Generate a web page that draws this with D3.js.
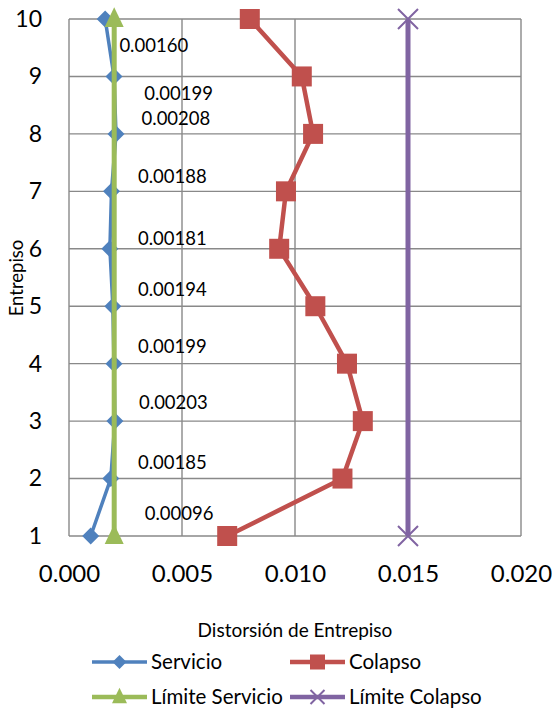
<!DOCTYPE html>
<html><head><meta charset="utf-8">
<script src="https://cdn.jsdelivr.net/npm/d3@7"></script>
<style>body{margin:0;background:#fff;} svg{display:block;font-family:Lato,"Open Sans",sans-serif;}</style>
</head><body>
<script>
const stories = [1,2,3,4,5,6,7,8,9,10];
const servicio = [0.00096,0.00185,0.00203,0.00199,0.00194,0.00181,0.00188,0.00208,0.00199,0.00160];
const colapso = [0.0070,0.0121,0.0130,0.0123,0.0109,0.0093,0.0096,0.0108,0.0103,0.0080];
const limiteServicio = [0.002,0.002];
const limiteColapso = [0.015,0.015];
const limitStories = [1,10];
const xTicks = [0,0.005,0.010,0.015,0.020];
const yTicks = [1,2,3,4,5,6,7,8,9,10];
const labelTexts = ["0.00096","0.00185","0.00203","0.00199","0.00194","0.00181","0.00188","0.00208","0.00199","0.00160"];
// label anchor (left edge, baseline) in data units
const labelX = [0.00335,0.00305,0.00310,0.00305,0.00305,0.00305,0.00305,0.00321,0.00333,0.00223];
const labelY = [1.28,2.16,3.21,4.18,5.17,6.07,7.14,8.155,8.59,9.43];

const W=552,H=711;
const svg=d3.select("body").append("svg").attr("width",W).attr("height",H);
const x=d3.scaleLinear().domain([0,0.02]).range([69,521]);
const y=d3.scaleLinear().domain([1,10]).range([536,19]);
const grid="#898989";

// gridlines
svg.append("g").selectAll("line").data(xTicks).join("line")
  .attr("x1",d=>x(d)).attr("x2",d=>x(d)).attr("y1",y(1)).attr("y2",y(10))
  .attr("stroke",grid).attr("stroke-width",1.4);
svg.append("g").selectAll("line").data(yTicks).join("line")
  .attr("x1",x(0)).attr("x2",x(0.02)).attr("y1",d=>y(d)).attr("y2",d=>y(d))
  .attr("stroke",grid).attr("stroke-width",1.4);

// axes labels via d3 axes
const xAxis=svg.append("g").attr("transform",`translate(0,${y(1)})`)
  .call(d3.axisBottom(x).tickValues(xTicks).tickFormat(d3.format(".3f")).tickSize(0).tickPadding(29));
xAxis.select(".domain").remove();
xAxis.selectAll("text").attr("font-size",24).attr("font-family","Lato").attr("fill","#000");
const yAxis=svg.append("g").attr("transform",`translate(${x(0)},0)`)
  .call(d3.axisLeft(y).tickValues(yTicks).tickFormat(d3.format("d")).tickSize(0).tickPadding(27));
yAxis.select(".domain").remove();
yAxis.selectAll("text").attr("font-size",23).attr("font-family","Lato").attr("fill","#000");

// series
const line=d3.line().x(d=>x(d[0])).y(d=>y(d[1]));
const servPts=servicio.map((v,i)=>[v,stories[i]]);
const colPts=colapso.map((v,i)=>[v,stories[i]]);
const lsPts=limiteServicio.map((v,i)=>[v,limitStories[i]]);
const lcPts=limiteColapso.map((v,i)=>[v,limitStories[i]]);
const C={s:"#4F81BD",c:"#C0504D",ls:"#9BBB59",lc:"#8064A2"};

const diamond=(g,cx,cy,r)=>g.append("path").attr("d",`M${cx},${cy-r}L${cx+r},${cy}L${cx},${cy+r}L${cx-r},${cy}Z`);
const square=(g,cx,cy,s)=>g.append("rect").attr("x",cx-s/2).attr("y",cy-s/2).attr("width",s).attr("height",s);
const tri=(g,cx,cy,s)=>g.append("path").attr("d",`M${cx},${cy-s*0.62}L${cx+s/2},${cy+s*0.42}L${cx-s/2},${cy+s*0.42}Z`);
const cross=(g,cx,cy,r)=>g.append("path").attr("d",`M${cx-r},${cy-r}L${cx+r},${cy+r}M${cx+r},${cy-r}L${cx-r},${cy+r}`);

const gS=svg.append("g");
gS.append("path").attr("d",line(servPts)).attr("fill","none").attr("stroke",C.s).attr("stroke-width",3.5);
servPts.forEach(p=>diamond(gS,x(p[0]),y(p[1]),8.5).attr("fill",C.s));
const gC=svg.append("g");
gC.append("path").attr("d",line(colPts)).attr("fill","none").attr("stroke",C.c).attr("stroke-width",4.5).attr("stroke-linejoin","round");
colPts.forEach(p=>square(gC,x(p[0]),y(p[1]),20).attr("fill",C.c));
const gL=svg.append("g");
gL.append("path").attr("d",line(lsPts)).attr("fill","none").attr("stroke",C.ls).attr("stroke-width",5);
lsPts.forEach(p=>tri(gL,x(p[0]),y(p[1]),19).attr("fill",C.ls));
const gK=svg.append("g");
gK.append("path").attr("d",line(lcPts)).attr("fill","none").attr("stroke",C.lc).attr("stroke-width",5);
lcPts.forEach(p=>cross(gK,x(p[0]),y(p[1]),10).attr("fill","none").attr("stroke",C.lc).attr("stroke-width",2));

// data labels
svg.append("g").selectAll("text").data(labelTexts).join("text")
  .attr("x",(d,i)=>x(labelX[i])).attr("y",(d,i)=>y(labelY[i]))
  .attr("font-size",18.5).attr("fill","#000").text(d=>d);

// axis titles
svg.append("text").attr("x",295).attr("y",637).attr("text-anchor","middle").attr("font-size",19).text("Distorsión de Entrepiso");
svg.append("text").attr("transform",`translate(23,278) rotate(-90)`).attr("text-anchor","middle").attr("font-size",18.5).text("Entrepiso");

// legend
const legend=[
 {name:"Servicio",color:C.s,m:"d",lx:92,ly:662},
 {name:"Colapso",color:C.c,m:"s",lx:290,ly:662},
 {name:"Límite Servicio",color:C.ls,m:"t",lx:92,ly:697},
 {name:"Límite Colapso",color:C.lc,m:"x",lx:290,ly:697}];
legend.forEach(l=>{
  const g=svg.append("g");
  g.append("line").attr("x1",l.lx).attr("x2",l.lx+55).attr("y1",l.ly).attr("y2",l.ly).attr("stroke",l.color).attr("stroke-width",l.m==="d"?3.5:4.5);
  const cx=l.lx+27.5;
  if(l.m==="d") diamond(g,cx,l.ly,7).attr("fill",l.color);
  if(l.m==="s") square(g,cx,l.ly,15).attr("fill",l.color);
  if(l.m==="t") tri(g,cx,l.ly,15).attr("fill",l.color);
  if(l.m==="x") cross(g,cx,l.ly,7).attr("stroke",l.color).attr("stroke-width",2);
  g.append("text").attr("x",l.lx+59).attr("y",l.ly+7).attr("font-size",20.5).text(l.name);
});
</script>
</body></html>
